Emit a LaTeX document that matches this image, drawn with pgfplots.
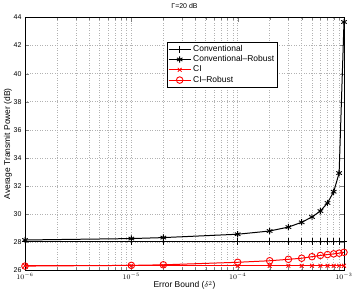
\documentclass[border=0pt]{standalone}
\usepackage{pgfplots}
\pgfplotsset{compat=1.18}
\usepackage{fontspec}
\setmainfont{Liberation Sans}
\begin{document}
\begin{tikzpicture}
\begin{axis}[
  name=ax,
  scale only axis,
  width=319bp, height=252.5bp,
  xmode=log,
  xmin=1e-6, xmax=1e-3,
  ymin=26, ymax=44,
  ytick={26,28,...,44},
  xtick={1e-6,1e-5,1e-4,1e-3},
  xticklabels={$10^{-6}$,$10^{-5}$,$10^{-4}$,$10^{-3}$},
  grid=both,
  major grid style={gray!60, line width=0.4pt, dash pattern=on 0.7pt off 1.8pt},
  minor grid style={gray!60, line width=0.4pt, dash pattern=on 0.7pt off 1.8pt},
  minor y tick num=0,
  tick align=inside,
  axis line style={black, line width=0.6pt},
  tick label style={font=\fontsize{7}{8}\selectfont},
  /pgf/number format/assume math mode=true,
  xlabel={Error Bound ($\delta^2$)},
  ylabel={Average Transmit Power (dB)},
  label style={font=\fontsize{8.5}{9.5}\selectfont},
  xlabel style={at={(axis description cs:0.5,-0.0614)}, anchor=center},
  ylabel style={at={(axis description cs:-0.0533,0.5)}, anchor=center},
  title={Γ=20 dB},
  title style={font=\fontsize{7}{8}\selectfont, at={(axis description cs:0.5,1.022)}, anchor=center},
  legend style={at={(0.445,0.903)}, anchor=north west, font=\fontsize{8.5}{9.5}\selectfont, draw=black, line width=0.5pt, inner sep=1pt, row sep=-1.2pt},
  legend cell align=left,
  legend image code/.code={\draw[mark repeat=2,mark phase=2,#1] plot coordinates {(0bp,0bp) (11bp,0bp) (22bp,0bp)};},
]
\addplot[black, line width=1pt, mark=+, mark size=3.5pt, mark options={line width=0.8pt}] coordinates {
(1e-6,28.05) (1e-5,28.05) (2e-5,28.05) (1e-4,28.05) (2e-4,28.05) (3e-4,28.05) (4e-4,28.05) (5e-4,28.05) (6e-4,28.05) (7e-4,28.05) (8e-4,28.05) (9e-4,28.05) (1e-3,28.05)};
\addlegendentry{Conventional}
\addplot[black, line width=1pt, mark=asterisk, mark size=3.2pt, mark options={line width=0.9pt}] coordinates {
(1e-6,28.14) (1e-5,28.24) (2e-5,28.31) (1e-4,28.55) (2e-4,28.78) (3e-4,29.06) (4e-4,29.4) (5e-4,29.78) (6e-4,30.2) (7e-4,30.78) (8e-4,31.58) (9e-4,32.91) (1e-3,43.68)};
\addlegendentry{Conventional--Robust}
\addplot[red, line width=1pt, mark=x, mark size=2.7pt, mark options={line width=0.8pt}] coordinates {
(1e-6,26.3) (1e-5,26.3) (2e-5,26.3) (1e-4,26.3) (2e-4,26.3) (3e-4,26.3) (4e-4,26.3) (5e-4,26.3) (6e-4,26.3) (7e-4,26.3) (8e-4,26.3) (9e-4,26.3) (1e-3,26.3)};
\addlegendentry{CI}
\addplot[red, line width=1pt, mark=o, mark size=3.3pt, mark options={line width=0.9pt}] coordinates {
(1e-6,26.28) (1e-5,26.33) (2e-5,26.37) (1e-4,26.55) (2e-4,26.66) (3e-4,26.76) (4e-4,26.84) (5e-4,26.95) (6e-4,27.04) (7e-4,27.1) (8e-4,27.15) (9e-4,27.2) (1e-3,27.26)};
\addlegendentry{CI--Robust}
\end{axis}
\pgfresetboundingbox
\path ([xshift=-25bp,yshift=-28bp]ax.south west) rectangle ([xshift=13bp,yshift=17.5bp]ax.north east);
\end{tikzpicture}
\end{document}
